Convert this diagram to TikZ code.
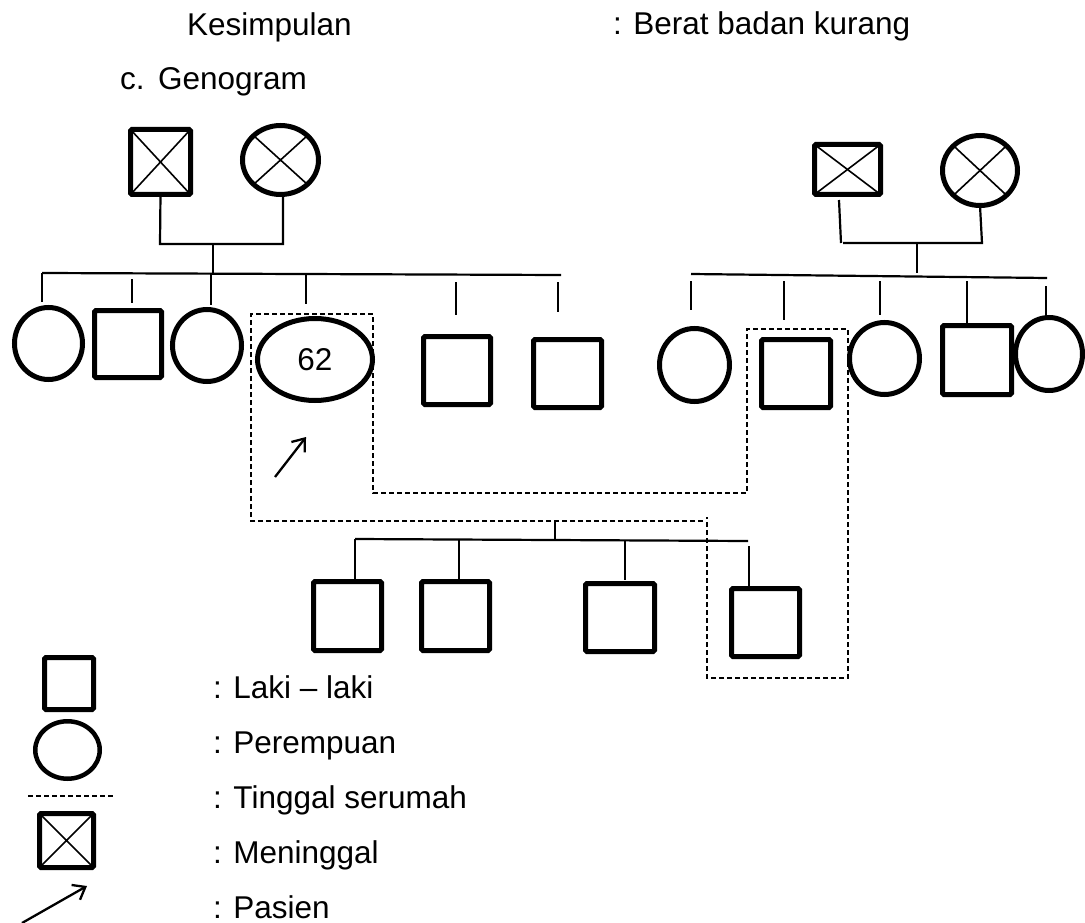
\documentclass[tikz,border=0pt]{standalone}
\usepackage{fontspec}
\setmainfont{Liberation Sans}
\usetikzlibrary{shapes.geometric,arrows.meta}
\tikzset{
  every node/.style={font=\fontsize{31.5}{36}\selectfont, inner sep=0pt, outer sep=0pt},
  sz/.style 2 args={minimum width=#1, minimum height=#2},
  male/.style={draw, rectangle, line width=5pt, rounded corners=1.5pt},
  fem/.style={draw, ellipse, line width=5pt},
  ln/.style={line width=2.2pt},
  crossln/.style={line width=1.6pt},
  house/.style={line width=1.7pt, dash pattern=on 5pt off 3pt},
  parrow/.style={line width=2.3pt, -{Straight Barb[length=11pt,width=17pt]}},
  lbl/.style={anchor=base west},
}
\begin{document}
\begin{tikzpicture}[x=1pt,y=-1pt]
\path[use as bounding box, fill=white] (0,0) rectangle (1085,923);

% header
\node[lbl] (kes) at (187,36) {Kesimpulan};
\node[lbl] (bb) at (613,35) {: Berat badan kurang};
\node[lbl] (cc) at (120,90) {c.};
\node[lbl] (geno) at (158,90) {Genogram};

% left grandparents
\node[male, sz={60pt}{65pt}] (lgf) at (160.5,162) {};
\node[fem, sz={76pt}{69pt}] (lgm) at (280.5,160) {};
\draw[crossln] (lgf.north west) -- (lgf.south east) (lgf.north east) -- (lgf.south west);
\draw[crossln] (lgm.north west) -- (lgm.south east) (lgm.north east) -- (lgm.south west);
\coordinate (lj) at (213,244);
\draw[ln] (lgf.south) -- (160,244) -- (283,244) -- (lgm.south -| 283,0);
\coordinate (L1) at (42,273);
\coordinate (L2) at (561,275);
\draw[ln] (lj) -- (213,273);
\draw[ln] (L1) -- (L2);

% right grandparents
\node[male, sz={66pt}{50pt}] (rgf) at (847.5,169.5) {};
\node[fem, sz={75pt}{70pt}] (rgm) at (980,170.5) {};
\draw[crossln] (rgf.north west) -- (rgf.south east) (rgf.north east) -- (rgf.south west);
\draw[crossln] (rgm.north west) -- (rgm.south east) (rgm.north east) -- (rgm.south west);
\draw[ln] (839,200) -- (841,243);
\draw[ln] (843,243) -- (982,243) -- (rgm.south);
\coordinate (rj) at (917,243);
\draw[ln] (rj) -- (917,273);
\coordinate (R1) at (691,274);
\coordinate (R2) at (1047,278);
\draw[ln] (R1) -- (R2);

% left children
\node[fem, sz={68pt}{72pt}] (c1) at (48.5,343.5) {};
\node[male, sz={67pt}{67pt}] (c2) at (128,344) {};
\node[fem, sz={69pt}{72pt}] (c3) at (207,345.5) {};
\node[fem, sz={115pt}{82pt}] (pt) at (315,359.5) {62};
\node[male, sz={67pt}{68pt}] (c5) at (457,370.5) {};
\node[male, sz={68pt}{68pt}] (c6) at (567.5,373.5) {};
\draw[ln] (L1) -- (42,302);
\draw[ln] (132,279) -- (132,303);
\draw[ln] (211,273) -- (211,305);
\draw[ln] (306,273) -- (306,304);
\draw[ln] (456,282) -- (456,315);
\draw[ln] (558,282) -- (558,312);

% right children
\node[fem, sz={70pt}{73pt}] (r1) at (694.5,365) {};
\node[male, sz={69pt}{68pt}] (r2) at (796,373.5) {};
\node[fem, sz={70pt}{72pt}] (r3) at (884.5,358.5) {};
\node[male, sz={69pt}{69pt}] (r4) at (977,360) {};
\node[fem, sz={67pt}{73pt}] (r5) at (1049,354) {};
\draw[ln] (691,281) -- (691,310);
\draw[ln] (784,281) -- (784,320);
\draw[ln] (880,281) -- (880,315);
\draw[ln] (967,281) -- (r4.north -| 967,0);
\draw[ln] (1046,286) -- (1046,315);

% patient arrow
\coordinate (pa) at (275,477);
\draw[parrow] (pa) -- (306,437);

% grandchildren
\coordinate (gj) at (555,522);
\draw[ln] (gj) -- (555,541);
\coordinate (G1) at (355,539);
\coordinate (G2) at (748,541);
\draw[ln] (G1) -- (G2);
\node[male, sz={68pt}{69pt}] (b1) at (347.5,616) {};
\node[male, sz={68pt}{69pt}] (b2) at (455.5,616) {};
\node[male, sz={69pt}{68pt}] (b3) at (620,617.5) {};
\node[male, sz={68pt}{68pt}] (b4) at (765.5,622.5) {};
\draw[ln] (G1) -- (355,579);
\draw[ln] (459,540) -- (459,580);
\draw[ln] (625,540) -- (625,580);
\draw[ln] (749,546) -- (749,586);

% living together (dashed)
\draw[house] (703,521) -- (251,521) -- (251,314) -- (373,314) -- (373,493) -- (747,493)
  -- (747,329) -- (848,329) -- (848,678) -- (707,678) -- (707,517);

% legend
\node[male, sz={49pt}{52pt}] (lm) at (69,683.5) {};
\node[fem, line width=4.5pt, sz={64.5pt}{57.5pt}] (lf) at (67.5,750) {};
\coordinate (ld1) at (28,796);
\coordinate (ld2) at (113,796);
\draw[house, line width=1.4pt] (ld1) -- (ld2);
\node[male, sz={54pt}{54pt}] (ldx) at (66.5,840.5) {};
\draw[crossln] (ldx.north west) -- (ldx.south east) (ldx.north east) -- (ldx.south west);
\coordinate (la) at (22,923);
\draw[parrow] (la) -- (87,886);

\node[lbl] (t1) at (213,698) {: Laki -- laki};
\node[lbl] (t2) at (213,753) {: Perempuan};
\node[lbl] (t3) at (213,808) {: Tinggal serumah};
\node[lbl] (t4) at (213,863) {: Meninggal};
\node[lbl] (t5) at (213,918) {: Pasien};
\end{tikzpicture}
\end{document}
